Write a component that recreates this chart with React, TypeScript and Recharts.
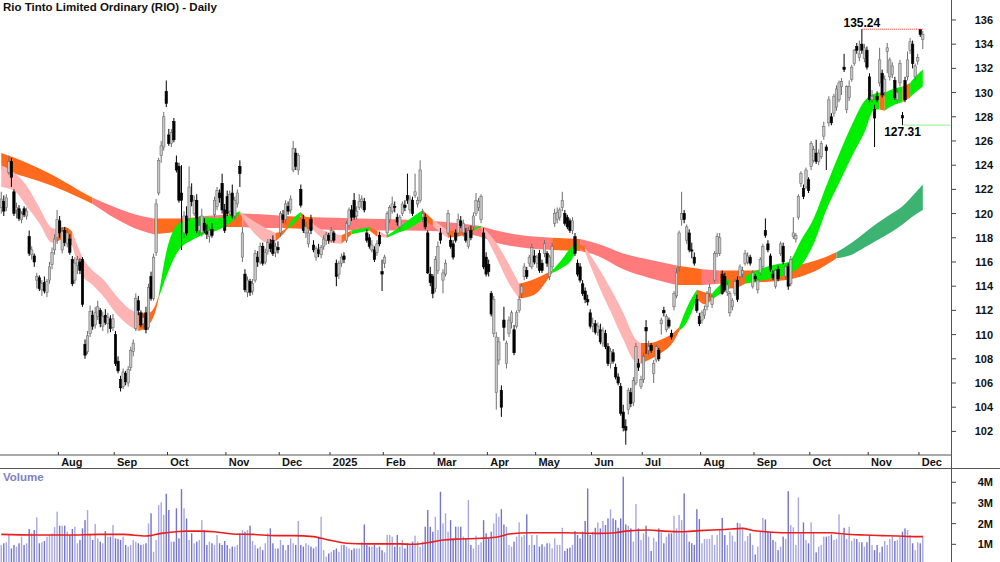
import React from 'react';
import { ComposedChart, Bar, Area, Line, XAxis, YAxis, ReferenceLine, ReferenceDot } from 'recharts';

// Rio Tinto (RIO) daily candles, Jul 2024 - Dec 2025: [open, high, low, close]
type Candle = [number, number, number, number];

const jul24: Candle[] = [
    [120.5, 121.8, 120.0, 121.2], [121.0, 121.5, 119.8, 120.2], [120.5, 121.6, 120.2, 121.3], [123.4, 124.8, 123.2, 124.3],
    [124.3, 124.6, 122.2, 123.0], [121.8, 122.0, 119.8, 120.0], [120.3, 120.9, 119.6, 120.5], [120.4, 120.7, 119.4, 119.6],
    [119.5, 120.2, 119.2, 120.0], [120.4, 120.6, 119.7, 119.9], [119.8, 120.5, 119.5, 120.2], [118.1, 118.6, 116.5, 116.7],
    [116.6, 117.3, 116.2, 117.0], [116.5, 116.7, 115.6, 116.0], [114.5, 115.1, 113.8, 114.8], [114.7, 114.9, 113.6, 113.8],
    [113.7, 114.5, 113.2, 114.2], [114.3, 114.8, 113.4, 113.6], [113.5, 114.6, 113.1, 114.4], [114.5, 116.0, 114.2, 115.6],
    [115.8, 117.2, 115.4, 116.8], [117.0, 118.3, 116.6, 117.9], [118.0, 120.3, 117.5, 119.5],
];
const aug24: Candle[] = [
    [119.4, 119.8, 118.0, 118.4], [117.0, 118.9, 116.7, 118.5], [118.6, 118.9, 117.3, 117.6], [117.5, 118.8, 117.2, 118.4],
    [117.9, 118.3, 116.6, 116.8], [116.2, 116.5, 114.0, 114.2], [114.5, 116.4, 114.2, 115.9], [115.7, 116.5, 115.0, 116.2],
    [116.0, 116.3, 115.0, 115.3], [116.2, 116.4, 112.3, 112.5], [109.2, 109.6, 108.0, 108.3], [108.6, 110.3, 108.4, 109.9],
    [110.1, 112.4, 109.8, 111.9], [111.6, 112.0, 110.4, 110.7], [110.8, 112.3, 110.5, 111.8], [111.5, 112.8, 111.2, 112.3],
    [112.0, 112.2, 110.6, 110.9], [110.7, 111.9, 110.3, 111.5], [111.6, 112.1, 110.8, 111.0], [110.9, 111.8, 110.1, 111.4],
    [111.3, 111.6, 110.2, 110.5], [110.6, 111.7, 110.3, 111.3],
];
const sep24: Candle[] = [
    [110.0, 110.3, 107.4, 107.6], [107.8, 108.2, 106.8, 107.0], [106.3, 106.6, 105.3, 105.6], [105.7, 107.2, 105.5, 106.9],
    [106.8, 107.0, 105.8, 106.1], [106.0, 107.4, 105.7, 107.1], [107.3, 109.0, 107.0, 108.7], [108.6, 109.6, 108.2, 109.3],
    [110.5, 113.4, 110.3, 113.0], [112.8, 113.2, 111.6, 112.0], [111.8, 112.0, 110.6, 110.8], [110.9, 111.7, 110.4, 111.4],
    [111.8, 112.3, 110.1, 110.4], [110.6, 114.2, 110.4, 113.9], [114.8, 115.2, 112.8, 113.0], [113.0, 116.7, 112.8, 116.4],
    [116.8, 121.2, 116.5, 120.8], [121.7, 124.6, 121.5, 124.4], [124.8, 126.0, 124.2, 125.6], [125.5, 128.4, 125.2, 128.0],
    [130.1, 131.0, 128.8, 129.1],
];
const oct24: Candle[] = [
    [126.5, 127.0, 125.6, 125.8], [125.8, 127.0, 125.5, 126.7], [127.6, 127.9, 125.9, 126.1], [124.2, 124.8, 123.4, 123.6],
    [123.9, 124.2, 120.9, 121.1], [121.7, 124.0, 117.0, 121.1], [118.4, 120.2, 118.0, 119.8], [119.8, 120.6, 118.2, 118.4],
    [119.6, 123.9, 119.4, 122.2], [121.5, 122.5, 120.6, 121.0], [120.0, 121.5, 119.8, 121.1], [121.1, 121.6, 118.4, 118.6],
    [118.6, 119.8, 118.2, 119.0], [118.4, 120.4, 118.1, 119.8], [119.2, 119.6, 118.4, 118.6], [118.5, 119.1, 117.9, 118.3],
    [118.1, 118.9, 117.6, 118.6], [118.7, 119.2, 118.0, 118.2], [119.9, 121.4, 119.7, 121.1], [120.6, 122.2, 120.3, 121.9],
    [121.7, 122.0, 120.9, 121.3], [122.5, 123.3, 120.0, 120.3], [120.3, 120.8, 118.4, 118.6],
];
const nov24: Candle[] = [
    [121.4, 121.9, 119.8, 120.0], [120.2, 121.9, 119.9, 121.6], [121.7, 122.4, 119.6, 119.8], [119.8, 121.4, 119.5, 121.1],
    [120.8, 122.0, 120.5, 121.7], [123.9, 124.4, 122.2, 123.3], [116.4, 118.9, 116.0, 118.4], [115.0, 115.4, 113.5, 113.7],
    [113.5, 114.8, 113.1, 114.5], [114.4, 114.6, 113.2, 113.5], [113.6, 114.6, 113.3, 114.2], [114.5, 117.0, 114.3, 116.7],
    [116.4, 116.9, 115.6, 116.0], [116.0, 117.6, 115.8, 117.3], [117.3, 117.6, 115.7, 115.9], [116.0, 117.1, 115.8, 116.8],
    [116.9, 117.9, 116.6, 117.6], [117.5, 117.9, 116.8, 117.1], [117.8, 118.2, 116.5, 116.7], [116.8, 117.6, 116.4, 117.3],
    [117.2, 117.7, 116.7, 117.0],
];
const dec24: Candle[] = [
    [118.4, 120.2, 118.1, 120.0], [119.9, 120.3, 119.2, 119.5], [119.5, 121.1, 119.2, 120.8], [120.6, 121.0, 119.9, 120.2],
    [120.3, 121.5, 120.0, 121.2], [123.6, 126.0, 123.4, 125.4], [125.0, 125.4, 123.6, 123.9], [123.6, 125.0, 123.2, 124.8],
    [122.0, 122.4, 120.5, 120.7], [119.5, 119.9, 118.4, 118.6], [118.4, 119.3, 118.0, 118.9], [117.5, 118.7, 117.2, 118.4],
    [119.5, 119.9, 118.3, 118.6], [117.4, 117.8, 116.8, 117.0], [116.4, 117.3, 116.1, 117.1], [117.0, 117.5, 116.4, 116.7],
    [116.6, 117.4, 116.3, 117.2], [117.3, 118.2, 117.0, 117.9], [117.8, 118.5, 117.4, 118.3], [118.2, 118.4, 117.5, 117.8],
];
const jan25: Candle[] = [
    [117.8, 118.9, 117.6, 118.6], [118.4, 118.6, 117.6, 117.8], [115.9, 116.2, 114.0, 114.8], [115.0, 116.1, 114.6, 115.9],
    [115.9, 116.7, 115.6, 116.4], [116.5, 116.8, 115.9, 116.2], [117.8, 119.4, 117.6, 119.2], [119.0, 120.5, 118.8, 120.3],
    [120.3, 120.7, 119.4, 119.7], [121.1, 121.7, 119.5, 119.7], [119.8, 120.6, 119.5, 120.2], [120.5, 121.6, 120.3, 121.0],
    [121.0, 121.5, 120.4, 121.2], [121.0, 121.3, 120.1, 120.3], [118.4, 118.7, 117.6, 117.8], [118.0, 118.3, 117.1, 117.3],
    [117.0, 117.8, 116.8, 117.4], [117.0, 117.3, 116.0, 116.2], [116.8, 117.8, 116.5, 117.5], [118.2, 118.5, 117.3, 117.5],
    [115.2, 116.2, 113.6, 115.0],
];
const feb25: Candle[] = [
    [115.9, 116.6, 115.5, 116.4], [118.4, 120.2, 118.1, 120.0], [119.5, 120.7, 119.2, 120.5], [120.2, 121.4, 120.0, 120.8],
    [120.6, 121.0, 120.1, 120.5], [119.7, 120.0, 119.0, 119.3], [118.9, 119.9, 118.6, 119.7], [120.0, 121.0, 119.8, 120.8],
    [120.7, 121.1, 120.2, 120.5], [121.5, 123.3, 120.8, 121.1], [120.3, 121.5, 120.0, 121.2], [121.1, 121.4, 119.8, 120.0],
    [121.5, 123.3, 121.3, 121.8], [120.8, 121.4, 120.5, 121.1], [121.1, 124.4, 120.9, 123.6], [119.7, 120.4, 119.3, 120.0],
    [119.7, 120.0, 118.7, 118.9], [118.4, 118.6, 115.0, 115.1], [115.0, 115.6, 114.0, 114.3], [114.8, 115.0, 113.0, 113.4],
];
const mar25: Candle[] = [
    [113.8, 116.5, 113.5, 116.2], [115.3, 117.7, 115.0, 117.3], [118.4, 118.8, 117.5, 117.8], [114.5, 115.4, 113.4, 115.1],
    [115.0, 116.2, 114.8, 115.9], [118.4, 120.3, 118.2, 120.0], [117.8, 118.2, 117.1, 117.3], [117.5, 117.8, 116.2, 116.4],
    [118.4, 118.7, 117.6, 117.8], [118.4, 120.0, 118.2, 119.5], [119.4, 119.8, 118.8, 119.0], [118.4, 119.5, 118.1, 119.2],
    [118.4, 118.8, 117.6, 117.8], [117.3, 118.9, 117.1, 118.6], [118.6, 119.0, 117.8, 118.0], [118.9, 120.1, 118.6, 119.8],
    [120.0, 121.7, 119.8, 121.1], [120.5, 121.3, 120.2, 121.0], [119.5, 121.6, 119.2, 121.4], [118.4, 118.8, 115.4, 115.6],
    [116.4, 116.8, 114.8, 115.0],
];
const apr25: Candle[] = [
    [115.8, 116.2, 114.8, 115.2], [113.4, 113.6, 111.5, 111.7], [110.1, 113.2, 109.8, 112.9], [105.2, 110.2, 103.8, 109.8],
    [107.9, 109.8, 107.5, 109.4], [105.4, 105.8, 103.2, 104.0], [111.2, 112.3, 109.5, 110.6], [107.6, 109.5, 107.2, 109.3],
    [110.1, 111.5, 109.8, 111.2], [111.0, 112.0, 110.5, 111.8], [110.4, 110.8, 108.3, 108.5], [110.7, 112.0, 110.5, 111.8],
    [112.0, 113.2, 111.8, 112.9], [113.4, 114.2, 113.0, 114.0], [114.8, 115.9, 114.5, 115.6], [115.3, 115.6, 114.6, 114.8],
    [115.9, 116.6, 115.6, 116.4], [115.6, 117.5, 115.4, 117.2], [116.5, 117.0, 115.8, 116.0],
];
const may25: Candle[] = [
    [115.9, 116.6, 115.5, 116.4], [116.7, 117.0, 115.1, 115.3], [115.9, 116.2, 115.1, 115.3], [116.7, 117.8, 116.4, 117.5],
    [116.7, 116.9, 115.6, 115.9], [114.8, 116.6, 114.5, 116.4], [115.6, 117.6, 115.3, 117.3], [119.2, 120.4, 118.9, 120.0],
    [119.5, 120.5, 119.2, 120.1], [119.7, 120.5, 119.4, 120.3], [120.5, 121.8, 120.2, 121.1], [120.0, 120.3, 119.0, 119.2],
    [119.7, 119.9, 118.7, 118.9], [119.4, 119.6, 118.4, 118.6], [118.6, 119.7, 118.3, 119.4], [118.1, 118.4, 116.5, 116.7],
    [115.9, 116.2, 114.8, 115.0], [115.6, 115.9, 114.3, 114.5], [114.2, 114.5, 113.2, 113.4], [113.6, 113.9, 112.6, 112.9],
    [112.9, 113.3, 112.4, 112.7], [111.8, 112.1, 110.5, 110.7],
];
const jun25: Candle[] = [
    [110.7, 111.4, 110.2, 110.9], [110.9, 111.2, 110.0, 110.2], [110.2, 111.0, 109.9, 110.7], [110.4, 110.9, 109.2, 109.4],
    [109.3, 110.6, 109.0, 110.3], [110.1, 110.4, 108.8, 109.0], [109.0, 109.3, 107.4, 107.6], [107.6, 108.9, 107.2, 108.6],
    [108.5, 108.8, 107.6, 107.8], [107.3, 107.6, 106.3, 106.5], [106.5, 106.8, 105.8, 106.0], [105.7, 106.0, 103.3, 103.5],
    [103.6, 104.2, 102.0, 102.3], [102.4, 103.0, 100.9, 102.1], [103.8, 105.6, 103.4, 105.4], [105.2, 105.6, 104.0, 104.3],
    [104.4, 106.5, 104.1, 106.2], [106.0, 109.3, 105.8, 109.0], [107.6, 108.0, 107.0, 107.3], [105.7, 106.6, 105.5, 106.3],
];
const jul25: Candle[] = [
    [106.3, 108.5, 106.0, 108.2], [110.6, 111.2, 108.4, 110.3], [108.7, 109.5, 108.3, 109.0], [109.1, 109.3, 108.5, 108.7],
    [106.8, 107.9, 106.0, 107.6], [107.9, 109.2, 107.7, 109.0], [108.7, 108.9, 107.8, 108.0], [110.9, 111.4, 110.0, 111.2],
    [112.0, 112.3, 111.5, 111.8], [110.4, 111.7, 110.2, 111.5], [111.2, 111.4, 110.5, 110.7], [110.1, 110.4, 109.6, 109.8],
    [112.3, 113.6, 112.0, 113.4], [113.2, 115.5, 113.0, 115.1], [115.6, 118.6, 115.2, 118.4], [119.5, 121.8, 119.0, 120.0],
    [120.0, 120.3, 119.2, 119.5], [117.8, 119.1, 117.5, 118.9], [118.4, 118.7, 116.8, 117.0], [117.0, 117.6, 116.3, 116.9],
    [116.4, 116.8, 115.7, 115.9], [112.9, 113.3, 111.8, 112.0], [111.5, 111.8, 110.7, 110.9],
];
const aug25: Candle[] = [
    [111.2, 112.0, 110.9, 111.8], [111.6, 112.4, 111.3, 112.1], [112.3, 113.6, 112.0, 113.4], [113.4, 114.2, 113.1, 113.9],
    [112.5, 113.3, 112.2, 113.1], [114.5, 116.9, 114.3, 116.7], [116.7, 118.4, 116.4, 118.1], [116.7, 118.4, 116.5, 118.0],
    [115.0, 115.3, 113.3, 113.4], [114.8, 115.1, 113.5, 113.7], [113.5, 114.4, 113.2, 114.1], [111.8, 113.6, 111.5, 113.4],
    [112.3, 113.0, 112.0, 112.8], [113.4, 114.6, 113.2, 114.4], [114.5, 114.8, 112.7, 112.9], [114.8, 115.8, 114.6, 115.6],
    [115.0, 115.6, 114.7, 115.3], [115.9, 117.0, 115.7, 116.7], [116.0, 116.8, 115.8, 116.5], [116.4, 116.6, 115.7, 115.9],
    [114.0, 115.3, 113.8, 115.1],
];
const sep25: Candle[] = [
    [114.8, 115.0, 114.4, 114.6], [113.7, 114.6, 113.4, 114.5], [115.1, 116.4, 114.9, 116.2], [115.6, 117.5, 115.4, 117.3],
    [118.6, 119.6, 118.0, 118.2], [117.5, 117.8, 116.8, 117.0], [116.5, 116.7, 115.2, 115.4], [115.0, 115.3, 114.5, 114.7],
    [114.0, 115.5, 113.8, 115.3], [115.4, 115.7, 114.4, 114.6], [116.7, 117.7, 116.5, 117.5], [117.3, 117.6, 115.8, 116.0],
    [114.8, 115.8, 114.6, 115.6], [115.6, 115.9, 113.7, 114.0], [114.2, 116.5, 114.0, 116.2], [118.1, 119.7, 117.9, 118.4],
    [117.9, 118.4, 117.6, 118.2], [119.7, 121.6, 119.5, 121.4], [122.5, 123.5, 122.2, 123.3], [122.1, 122.4, 121.2, 121.4],
    [122.2, 123.8, 122.0, 123.6], [122.8, 123.0, 121.7, 121.9],
];
const oct25: Candle[] = [
    [123.9, 126.0, 123.6, 125.8], [124.4, 125.6, 124.2, 125.3], [125.0, 126.1, 124.1, 124.3], [124.3, 125.3, 124.0, 125.0],
    [124.7, 126.0, 124.5, 125.8], [126.4, 127.6, 126.1, 127.2], [125.5, 125.7, 123.6, 125.2], [127.5, 129.7, 127.2, 129.4],
    [128.0, 128.3, 127.3, 127.5], [128.3, 129.9, 128.0, 129.7], [128.8, 130.6, 128.5, 130.3], [129.4, 131.0, 129.2, 130.8],
    [130.5, 131.2, 129.8, 130.9], [132.1, 133.2, 131.7, 131.9], [128.6, 130.6, 128.3, 130.5], [129.6, 131.0, 129.3, 130.5],
    [131.1, 132.3, 130.9, 132.1], [132.4, 133.6, 132.2, 133.5], [133.8, 134.1, 133.2, 133.5], [132.9, 134.3, 132.6, 133.2],
    [134.0, 135.24, 133.2, 133.5], [132.8, 134.0, 132.5, 133.7], [133.5, 133.8, 131.9, 132.1],
];
const nov25: Candle[] = [
    [131.3, 131.6, 129.2, 129.4], [129.4, 130.2, 129.2, 129.7], [128.6, 129.0, 125.5, 127.9], [129.7, 130.1, 129.2, 129.4],
    [130.8, 133.7, 130.5, 132.7], [131.6, 131.9, 129.6, 129.8], [130.0, 131.4, 129.7, 131.1], [133.4, 134.1, 131.6, 133.7],
    [131.3, 132.9, 131.0, 132.7], [131.5, 132.5, 131.2, 132.2], [131.0, 131.3, 129.4, 129.6], [129.4, 130.3, 129.1, 130.0],
    [130.8, 132.7, 130.5, 132.4], [128.1, 128.4, 127.31, 127.9], [131.0, 131.3, 129.2, 129.4], [131.3, 133.4, 131.0, 132.7],
    [133.5, 134.5, 133.2, 134.2], [134.0, 134.3, 132.0, 132.4], [131.3, 132.4, 131.0, 132.2], [132.6, 133.2, 132.3, 132.9],
];
const dec25: Candle[] = [
    [135.2, 135.24, 134.6, 134.8], [134.4, 135.1, 133.6, 134.8],
];

// daily volume, millions of shares
const volH2_24 = [
    0.97, 1.05, 1.10, 1.48, 0.80, 0.97, 0.89, 1.05, 1.37, 0.97, 1.05, 1.74, 1.53, 1.69, 2.30, 1.05, 1.10, 1.16, 1.37, 1.45, 1.53, 1.83, 2.58,
    1.90, 1.90, 1.90, 1.61, 1.45, 1.74, 1.85, 1.05, 1.21, 1.77, 2.17, 2.66, 1.45, 1.21, 1.98, 1.29, 1.13, 1.05, 1.64, 1.37, 1.37, 1.93,
    1.29, 1.26, 1.21, 1.37, 0.97, 0.89, 0.97, 1.21, 1.13, 1.05, 0.97, 1.00, 1.05, 2.01, 2.50, 0.64, 1.21, 2.90, 3.03, 2.42, 3.45,
    2.66, 1.13, 1.13, 2.74, 1.29, 3.67, 2.74, 2.25, 1.21, 1.53, 1.05, 1.13, 1.21, 2.17, 1.69, 0.97, 1.13, 1.05, 0.97, 1.45, 1.05, 0.97, 1.16,
    0.97, 0.80, 0.89, 0.89, 0.97, 1.53, 1.69, 1.61, 1.69, 1.90, 1.16, 0.97, 0.80, 0.89, 0.72, 1.05, 1.53, 1.77, 1.05, 0.80, 0.80,
    1.21, 0.97, 0.72, 0.97, 1.29, 1.05, 0.97, 2.13, 0.97, 0.89, 1.05, 0.97, 0.89, 0.80, 0.89, 1.37, 2.33, 0.72, 0.40, 0.56,
];
const volH1_25 = [
    0.64, 0.72, 0.80, 0.64, 0.97, 0.97, 0.89, 0.80, 0.72, 0.80, 0.80, 0.80, 1.10, 1.96, 0.97, 0.89, 0.89, 0.97, 0.84, 0.89, 0.72,
    0.61, 1.45, 1.45, 1.37, 0.89, 1.45, 0.89, 1.21, 0.80, 1.05, 0.97, 1.13, 1.42, 1.13, 0.89, 1.13, 1.85, 2.66, 1.85, 1.61,
    2.33, 1.69, 3.54, 2.01, 2.50, 1.61, 2.17, 1.29, 1.85, 1.85, 1.85, 1.37, 1.29, 3.14, 0.97, 0.80, 1.42, 0.97, 1.10, 2.17, 1.53,
    1.29, 1.61, 2.01, 2.50, 2.33, 2.70, 1.96, 1.85, 0.97, 0.89, 1.13, 1.37, 2.06, 1.37, 1.45, 2.45, 0.97, 1.45, 0.97,
    1.45, 0.89, 1.00, 0.89, 1.05, 1.05, 0.80, 1.29, 0.97, 0.97, 1.80, 0.68, 0.80, 0.84, 0.97, 1.64, 1.45, 1.29, 1.61, 2.13, 3.70, 1.45,
    1.61, 1.80, 2.06, 1.77, 2.13, 1.93, 2.25, 2.69, 2.25, 2.17, 1.80, 2.25, 4.27, 1.96, 1.90, 1.77, 1.13, 2.95, 1.77, 1.21,
];
const volH2_25 = [
    1.53, 1.90, 1.37, 0.68, 1.32, 1.13, 1.77, 1.58, 1.05, 1.37, 1.53, 1.53, 2.38, 1.77, 2.42, 2.17, 3.46, 1.53, 1.13, 1.05, 0.97, 2.70, 2.22,
    1.05, 1.26, 1.26, 1.26, 1.45, 0.97, 1.45, 1.69, 2.28, 1.45, 0.97, 1.61, 1.42, 1.13, 2.04, 2.01, 1.80, 1.16, 1.40, 1.53, 0.97,
    0.51, 0.89, 1.61, 2.28, 2.20, 1.61, 1.61, 1.21, 1.13, 0.72, 0.89, 1.37, 1.26, 3.57, 1.93, 1.82, 0.97, 3.27, 1.53, 2.06, 1.21, 1.05,
    2.06, 1.53, 0.61, 0.89, 0.97, 1.37, 1.37, 1.40, 1.48, 1.21, 1.26, 2.45, 1.45, 1.80, 1.26, 1.85, 1.16, 1.29, 1.26, 1.10, 1.10, 0.89, 1.10,
    1.45, 0.97, 0.72, 0.97, 0.61, 0.89, 1.16, 0.97, 1.26, 1.37, 1.16, 1.21, 1.37, 1.61, 1.77, 1.69, 1.45, 1.05, 0.72, 1.10,
    1.05, 1.42,
];

// short-term ribbon, read at knots (day index, top, bottom, colour of the following stretch)
const stIdx = [0, 5, 10, 15, 20, 22, 25, 28, 32, 36, 40, 45, 50, 54, 58, 61, 62, 65, 70, 75, 80, 85, 90, 94, 100, 105, 108, 111, 113, 116,
    118, 122, 125, 130, 134, 138, 145, 148, 152, 155, 160, 166, 170, 172, 176, 182, 186, 189, 195, 200, 204, 210, 215, 217, 220, 225, 227, 230,
    235, 240, 245, 250, 252, 255, 260, 265, 267, 270, 274, 277, 280, 285, 287, 290, 293, 300, 305, 310, 315, 320, 325, 330, 335, 340, 344, 346,
    348, 350, 355, 358, 360, 363];
const stHi = [124.0, 123.4, 122.3, 120.5, 118.8, 118.7, 118.9, 118.5, 116.4, 115.3, 114.6, 113.3, 112.2, 111.8, 111.8, 112.6, 113.2, 116.8,
    119.2, 119.6, 119.7, 119.6, 119.9, 120.2, 119.3, 118.7, 118.4, 118.6, 119.0, 119.8, 120.1, 119.3, 118.8, 118.4, 118.2, 118.6, 118.9, 118.6,
    118.2, 118.6, 119.4, 120.3, 119.5, 119.2, 118.6, 118.5, 118.8, 119.0, 117.6, 115.8, 114.2, 114.6, 115.1, 115.3, 116.0, 117.3, 117.6, 117.2,
    115.6, 113.8, 111.8, 109.6, 109.3, 109.3, 109.6, 110.2, 110.6, 112.2, 113.7, 113.5, 113.4, 114.4, 114.6, 114.6, 114.8, 115.5, 115.8, 116.0,
    117.8, 119.6, 122.3, 124.9, 127.3, 129.3, 129.9, 130.0, 130.0, 130.2, 130.5, 130.8, 131.3, 131.9];
const stLo = [122.2, 121.9, 120.6, 119.2, 117.6, 117.7, 117.9, 117.3, 114.9, 114.1, 113.2, 111.8, 110.8, 110.3, 110.8, 112.1, 113.0, 114.8,
    117.0, 117.8, 118.3, 118.6, 119.2, 120.0, 118.3, 117.6, 117.7, 118.3, 118.8, 119.3, 119.8, 118.9, 118.2, 117.6, 117.5, 118.3, 118.6, 118.1,
    118.0, 118.3, 118.7, 119.5, 119.0, 118.6, 118.0, 118.2, 118.6, 118.9, 116.4, 114.2, 113.0, 113.3, 114.5, 115.1, 115.4, 116.3, 117.3, 116.8,
    114.2, 111.9, 109.6, 107.7, 107.6, 107.9, 108.5, 109.5, 110.3, 111.0, 113.0, 112.5, 112.9, 113.6, 113.8, 113.9, 114.2, 114.5, 114.7, 115.0,
    115.7, 117.5, 120.3, 122.5, 124.7, 126.7, 128.6, 128.6, 128.5, 128.8, 129.2, 129.6, 130.0, 130.5];
const stCol = ['P', 'P', 'P', 'P', 'P', 'O', 'O', 'P', 'P', 'P', 'P', 'P', 'P', 'O', 'O', 'O', 'G', 'G', 'G', 'G', 'G', 'G', 'G', 'P', 'P', 'P',
    'O', 'O', 'G', 'G', 'O', 'P', 'P', 'P', 'O', 'G', 'O', 'P', 'G', 'G', 'G', 'O', 'P', 'P', 'O', 'O', 'G', 'P', 'P', 'P', 'O', 'O', 'O', 'G',
    'G', 'G', 'O', 'P', 'P', 'P', 'P', 'P', 'O', 'O', 'O', 'O', 'G', 'G', 'O', 'O', 'G', 'G', 'O', 'O', 'G', 'G', 'G', 'G', 'G', 'G', 'G', 'G',
    'G', 'G', 'G', 'O', 'G', 'G', 'O', 'G', 'G', 'G'];

// long-term ribbon knots
const ltIdx = [0, 10, 20, 30, 36, 45, 55, 60, 70, 80, 88, 95, 105, 111, 123, 140, 160, 180, 190, 195, 205, 217, 228, 235, 245, 255, 266, 276,
    283, 295, 305, 315, 322, 329, 335, 340, 345, 350, 355, 360, 363];
const ltHi = [125.0, 124.2, 123.2, 122.0, 121.3, 120.5, 119.8, 119.6, 119.6, 119.8, 119.9, 120.0, 119.9, 119.8, 119.7, 119.6, 119.5, 119.2,
    118.9, 118.6, 118.2, 118.0, 117.9, 117.5, 116.7, 116.2, 115.7, 115.4, 115.3, 115.3, 115.4, 115.8, 116.2, 116.8, 117.6, 118.4, 119.2, 119.9,
    120.6, 121.7, 122.4];
const ltLo = [123.6, 123.0, 122.3, 121.4, 120.8, 119.6, 118.6, 118.3, 118.5, 118.7, 118.9, 118.9, 118.8, 118.8, 118.7, 118.6, 118.6, 118.4,
    118.0, 117.6, 117.2, 117.0, 116.9, 116.5, 115.4, 114.7, 114.1, 114.1, 114.2, 114.3, 114.4, 114.8, 115.4, 116.3, 116.6, 117.2, 117.8, 118.4,
    119.1, 119.9, 120.3];
const ltCol = ['O', 'O', 'O', 'O', 'S', 'S', 'S', 'O', 'O', 'S', 'O', 'S', 'S', 'O', 'S', 'S', 'S', 'S', 'S', 'S', 'S', 'O', 'S', 'S', 'S',
    'S', 'O', 'S', 'O', 'O', 'O', 'O', 'O', 'D', 'D', 'D', 'D', 'D', 'D', 'D', 'D'];

// volume moving average knots
const vmaIdx = [0, 13, 26, 39, 48, 57, 63, 69, 73, 78, 84, 91, 99, 108, 115, 123, 126, 131, 136, 144, 150, 157, 162, 169, 174, 181, 189, 196,
    200, 209, 222, 235, 242, 246, 255, 261, 268, 275, 285, 292, 296, 301, 309, 314, 327, 332, 340, 347, 353, 360, 363];
const vmaVal = [1.48, 1.45, 1.45, 1.48, 1.48, 1.40, 1.53, 1.61, 1.64, 1.64, 1.61, 1.50, 1.48, 1.42, 1.42, 1.37, 1.29, 1.16, 1.05, 1.02, 1.02,
    1.02, 1.00, 1.10, 1.21, 1.26, 1.29, 1.37, 1.50, 1.56, 1.56, 1.53, 1.56, 1.64, 1.69, 1.64, 1.61, 1.66, 1.72, 1.77, 1.67, 1.61, 1.56, 1.56,
    1.56, 1.50, 1.45, 1.42, 1.40, 1.37, 1.37];

const monthStarts = [23, 45, 66, 89, 110, 130, 151, 171, 192, 211, 233, 253, 276, 297, 319, 342, 362];
const monthLabels = ['Aug', 'Sep', 'Oct', 'Nov', 'Dec', '2025', 'Feb', 'Mar', 'Apr', 'May', 'Jun', 'Jul', 'Aug', 'Sep', 'Oct', 'Nov', 'Dec'];
const priceTicks = [102, 104, 106, 108, 110, 112, 114, 116, 118, 120, 122, 124, 126, 128, 130, 132, 134, 136];
const volumeTicks = [1, 2, 3, 4];

const candles: Candle[] = [...jul24, ...aug24, ...sep24, ...oct24, ...nov24, ...dec24, ...jan25, ...feb25, ...mar25, ...apr25,
    ...may25, ...jun25, ...jul25, ...aug25, ...sep25, ...oct25, ...nov25, ...dec25];
const volumes = [...volH2_24, ...volH1_25, ...volH2_25];

const FONT = '"Liberation Sans", Arial, Helvetica, sans-serif';
const SLOTS = 375; // trading days plus empty space up to the right axis
const RIBBON_COLORS: Record<string, string> = {
    P: '#ffb4b4', G: '#00ee00', O: '#ff6a1c', S: '#ff7b7b', D: '#3cb371',
};

const rows: any[] = Array.from({ length: SLOTS }, (_, i) => {
    const c = candles[i];
    if (!c) return { i };
    return { i, o: c[0], h: c[1], l: c[2], c: c[3], hl: [c[2], c[1]], v: volumes[i] };
});

interface Seg { key: string; color: string }

// split a ribbon into colour runs, each one its own range Area
function buildRibbon(prefix: string, idx: number[], hi: number[], lo: number[], col: string[]): Seg[] {
    const segs: Seg[] = [];
    let s = 0;
    for (let k = 1; k < idx.length; k++) {
        if (col[k] !== col[s] || k === idx.length - 1) {
            const key = prefix + segs.length;
            rows.forEach((r) => { r[key] = [null, null]; });
            for (let j = s; j <= k; j++) rows[idx[j]][key] = [lo[j], hi[j]];
            segs.push({ key, color: RIBBON_COLORS[col[s]] });
            s = k;
        }
    }
    return segs;
}

const ltSegs = buildRibbon('lt', ltIdx, ltHi, ltLo, ltCol);
const stSegs = buildRibbon('st', stIdx, stHi, stLo, stCol);
vmaIdx.forEach((d, k) => { rows[d].vma = vmaVal[k]; });

const CandleShape = (props: any) => {
    const { x, y, width, height, payload } = props;
    if (!payload || payload.o == null) return null;
    const top = Math.min(y, y + height);
    const span = Math.abs(height);
    const k = span / (payload.h - payload.l || 1);
    const yv = (v: number) => top + (payload.h - v) * k;
    const cx = x + width / 2;
    const up = payload.c >= payload.o;
    const bTop = yv(Math.max(payload.o, payload.c));
    const bH = Math.max(1, yv(Math.min(payload.o, payload.c)) - bTop);
    const edge = up ? '#6e6e6e' : '#000';
    return (
        <g>
            <line x1={cx} x2={cx} y1={top} y2={top + span} stroke={edge} strokeWidth={1} />
            <rect x={cx - 1.2} y={bTop} width={2.4} height={bH} fill={up ? '#c6c6c6' : '#000'} stroke={edge} strokeWidth={0.6} />
        </g>
    );
};

const VolumeShape = (props: any) => {
    const { x, y, width, height, payload } = props;
    if (!payload || payload.v == null) return null;
    const up = payload.c >= payload.o;
    return <rect x={x + width / 2 - 0.7} y={y} width={1.4} height={Math.max(0, height)} fill={up ? '#a8a8e2' : '#7474ca'} />;
};

const renderMonthTick = (props: any) => {
    const { x, y, payload } = props;
    const k = monthStarts.indexOf(payload.value);
    if (k < 0) return <g />;
    return (
        <g>
            <line x1={x - 1.3} x2={x - 1.3} y1={y - 3} y2={y} stroke="#333" strokeWidth={1} />
            <text x={x + 1.5} y={y + 11} fontSize={11} fontWeight="bold" fontFamily={FONT} fill="#111">{monthLabels[k]}</text>
        </g>
    );
};

const renderRightTick = (suffix: string) => (props: any) => {
    const { y, payload } = props;
    return (
        <g>
            <line x1={952} x2={956} y1={y} y2={y} stroke="#444" strokeWidth={1} />
            <text x={993} y={y + 4} textAnchor="end" fontSize={11} fontWeight="bold" fontFamily={FONT} fill="#111">
                {payload.value}{suffix}
            </text>
        </g>
    );
};

export default function App() {
    return (
        <div style={{ position: 'absolute', left: 0, top: 0, width: 1000, height: 562, background: '#fff', overflow: 'hidden' }}>
            <div style={{ position: 'absolute', left: 0, top: 0 }}>
                <ComposedChart width={1000} height={468} data={rows} margin={{ top: 0, right: 0, bottom: 0, left: 0 }}>
                    <XAxis dataKey="i" type="category" ticks={monthStarts} interval={0} tick={renderMonthTick}
                        tickLine={false} tickSize={0} tickMargin={0} height={13} axisLine={{ stroke: '#555' }} />
                    <YAxis orientation="right" width={48} type="number" domain={[100.05, 137.65]} allowDataOverflow
                        ticks={priceTicks} interval={0} tick={renderRightTick('')} tickLine={false} axisLine={false} />
                    {ltSegs.map((s) => (
                        <Area key={s.key} dataKey={s.key} type="monotone" connectNulls stroke="none" fill={s.color}
                            fillOpacity={1} isAnimationActive={false} dot={false} activeDot={false} zIndex={100} />
                    ))}
                    {stSegs.map((s) => (
                        <Area key={s.key} dataKey={s.key} type="monotone" connectNulls stroke="none" fill={s.color}
                            fillOpacity={1} isAnimationActive={false} dot={false} activeDot={false} zIndex={110} />
                    ))}
                    <Bar dataKey="hl" shape={CandleShape} isAnimationActive={false} zIndex={600} />
                    <ReferenceLine segment={[{ x: 339, y: 135.24 }, { x: 363, y: 135.24 }]} stroke="#ff4040"
                        strokeDasharray="1 1" zIndex={700} />
                    <ReferenceLine segment={[{ x: 355, y: 127.31 }, { x: 374, y: 127.31 }]} stroke="#22dd22"
                        strokeDasharray="1 1" zIndex={700} />
                    <ReferenceDot x={339} y={135.24} r={0} stroke="none" fill="none" zIndex={700}
                        label={{ value: '135.24', position: 'top', offset: 2, fill: '#000', fontSize: 12, fontWeight: 'bold', fontFamily: FONT }} />
                    <ReferenceDot x={355} y={127.31} r={0} stroke="none" fill="none" zIndex={700}
                        label={{ value: '127.31', position: 'bottom', offset: 2, fill: '#000', fontSize: 12, fontWeight: 'bold', fontFamily: FONT }} />
                </ComposedChart>
            </div>
            <div style={{ position: 'absolute', left: 0, top: 468 }}>
                <ComposedChart width={1000} height={97} data={rows} margin={{ top: 0, right: 0, bottom: 0, left: 0 }}>
                    <XAxis dataKey="i" type="category" hide />
                    <YAxis orientation="right" width={48} type="number" domain={[0, 4.69]} allowDataOverflow
                        ticks={volumeTicks} interval={0} tick={renderRightTick('M')} tickLine={false} axisLine={false} />
                    <Bar dataKey="v" shape={VolumeShape} isAnimationActive={false} />
                    <Line dataKey="vma" type="monotone" connectNulls stroke="#ee1c1c" strokeWidth={1.6} dot={false}
                        activeDot={false} isAnimationActive={false} />
                </ComposedChart>
            </div>
            <div style={{ position: 'absolute', left: 0, top: 468, width: 1000, height: 1, background: '#555' }} />
            <div style={{ position: 'absolute', left: 951, top: 0, width: 1, height: 562, background: '#555' }} />
            <div style={{ position: 'absolute', left: 3, top: 1, fontFamily: FONT, fontSize: 11.5, fontWeight: 'bold', color: '#111', whiteSpace: 'nowrap' }}>
                Rio Tinto Limited Ordinary (RIO) - Daily
            </div>
            <div style={{ position: 'absolute', left: 3, top: 471, fontFamily: FONT, fontSize: 11.5, fontWeight: 'bold', color: '#7f7fc4' }}>
                Volume
            </div>
        </div>
    );
}
